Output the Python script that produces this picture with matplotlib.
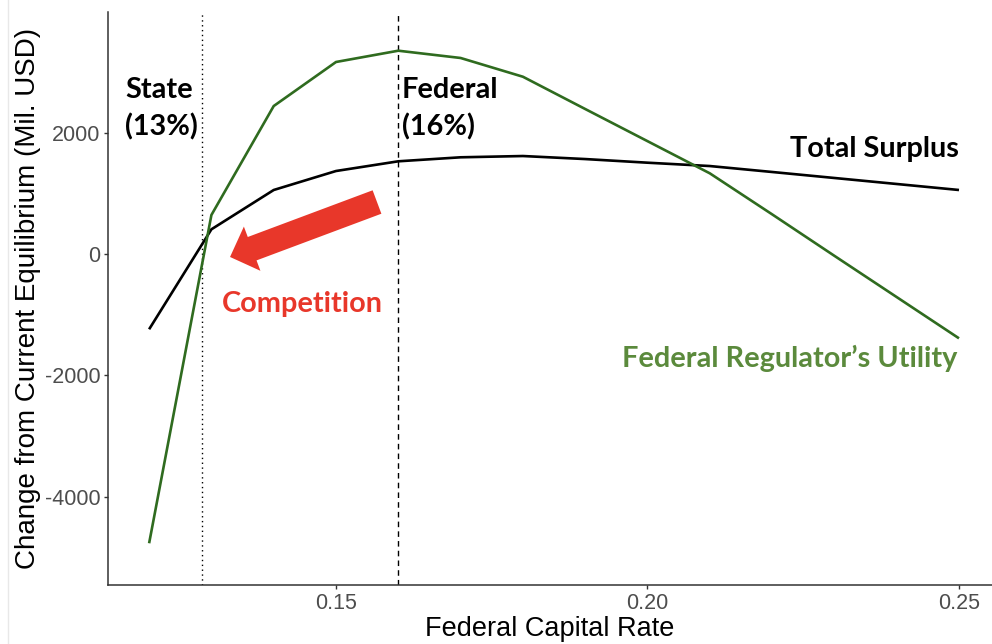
import matplotlib
matplotlib.use("Agg")
import matplotlib.pyplot as plt
from matplotlib.lines import Line2D

# ---- data ----
rates = [0.12, 0.13, 0.14, 0.15, 0.16, 0.17, 0.18, 0.19, 0.20, 0.21, 0.22, 0.23, 0.24, 0.25]
regulator_utility = [-4768, 643, 2439, 3165, 3351, 3231, 2922, 2390, 1860, 1330, 654, -30, -710, -1390]
total_surplus = [-1241, 407, 1055, 1368, 1528, 1594, 1615, 1565, 1505, 1450, 1352, 1253, 1154, 1055]
state_rate = 0.1285
federal_rate = 0.16
x_ticks = [0.15, 0.20, 0.25]
x_tick_labels = ["0.15", "0.20", "0.25"]
y_ticks = [-4000, -2000, 0, 2000]
y_tick_labels = ["-4000", "-2000", "0", "2000"]

W, H = 992, 644
fig = plt.figure(figsize=(W / 100, H / 100), dpi=100)
left, right, top, bottom = 108, 992, 12, 585
ax = fig.add_axes([left / W, 1 - bottom / H, (right - left) / W, (bottom - top) / H])

# faint border line at left of the slide image
fig.add_artist(Line2D([8 / W, 8 / W], [0, 1], transform=fig.transFigure,
                      color="#e8e8e8", lw=1.0))

green_line = "#2f6b1f"
green_text = "#5b8a3c"
red = "#e8372a"

ax.plot(rates, total_surplus, color="black", lw=1.9, solid_capstyle="butt", zorder=3)
ax.plot(rates, regulator_utility, color=green_line, lw=1.9, solid_capstyle="butt", zorder=3)
ax.axvline(state_rate, color="black", lw=1.0, linestyle=(0, (1, 2.5)), zorder=2)
ax.axvline(federal_rate, color="black", lw=1.0, linestyle=(0, (4, 3)), zorder=2)

ax.set_xlim(0.1134, 0.2553)
ax.set_ylim(-5456, 3989)
ax.set_xticks(x_ticks)
ax.set_xticklabels(x_tick_labels)
ax.set_yticks(y_ticks)
ax.set_yticklabels(y_tick_labels)

for s in ["top", "right"]:
    ax.spines[s].set_visible(False)
for s in ["left", "bottom"]:
    ax.spines[s].set_color("#333333")
    ax.spines[s].set_linewidth(1.1)

ax.tick_params(axis="both", length=3, width=1.0, color="#333333", pad=2.5,
               labelsize=15.5, labelcolor="#4d4d4d")
for lab in ax.get_xticklabels() + ax.get_yticklabels():
    lab.set_family("Liberation Sans")

ax.set_xlabel("Federal Capital Rate", family="Liberation Sans", size=19.5, color="black", labelpad=2)
ax.set_ylabel("Change from Current Equilibrium (Mil. USD)", family="Liberation Sans", size=20,
              color="black", labelpad=3)

ann = dict(family="Lato", weight="bold", size=20.8)
ax.text(0.11613, 2571, "State", ha="left", va="baseline", color="black", **ann)
ax.text(0.11613, 1961, "(13%)", ha="left", va="baseline", color="black", **ann)
ax.text(0.16054, 2571, "Federal", ha="left", va="baseline", color="black", **ann)
ax.text(0.16054, 1961, "(16%)", ha="left", va="baseline", color="black", **ann)
ax.text(0.25, 1604, "Total Surplus", ha="right", va="baseline", color="black", **ann)
ax.text(0.2497, -1857, "Federal Regulator\u2019s Utility", ha="right", va="baseline",
        color=green_text, **ann)
ax.text(0.14454, -951, "Competition", ha="center", va="baseline", color=red, **ann)

ax.annotate("", xy=(0.13299, -49), xytext=(0.15658, 857),
            arrowprops=dict(arrowstyle="simple,head_length=17,head_width=34,tail_width=18",
                            mutation_scale=1, color=red, lw=0, shrinkA=0, shrinkB=0),
            zorder=4)

fig.savefig("out.png", dpi=100, facecolor="white")
